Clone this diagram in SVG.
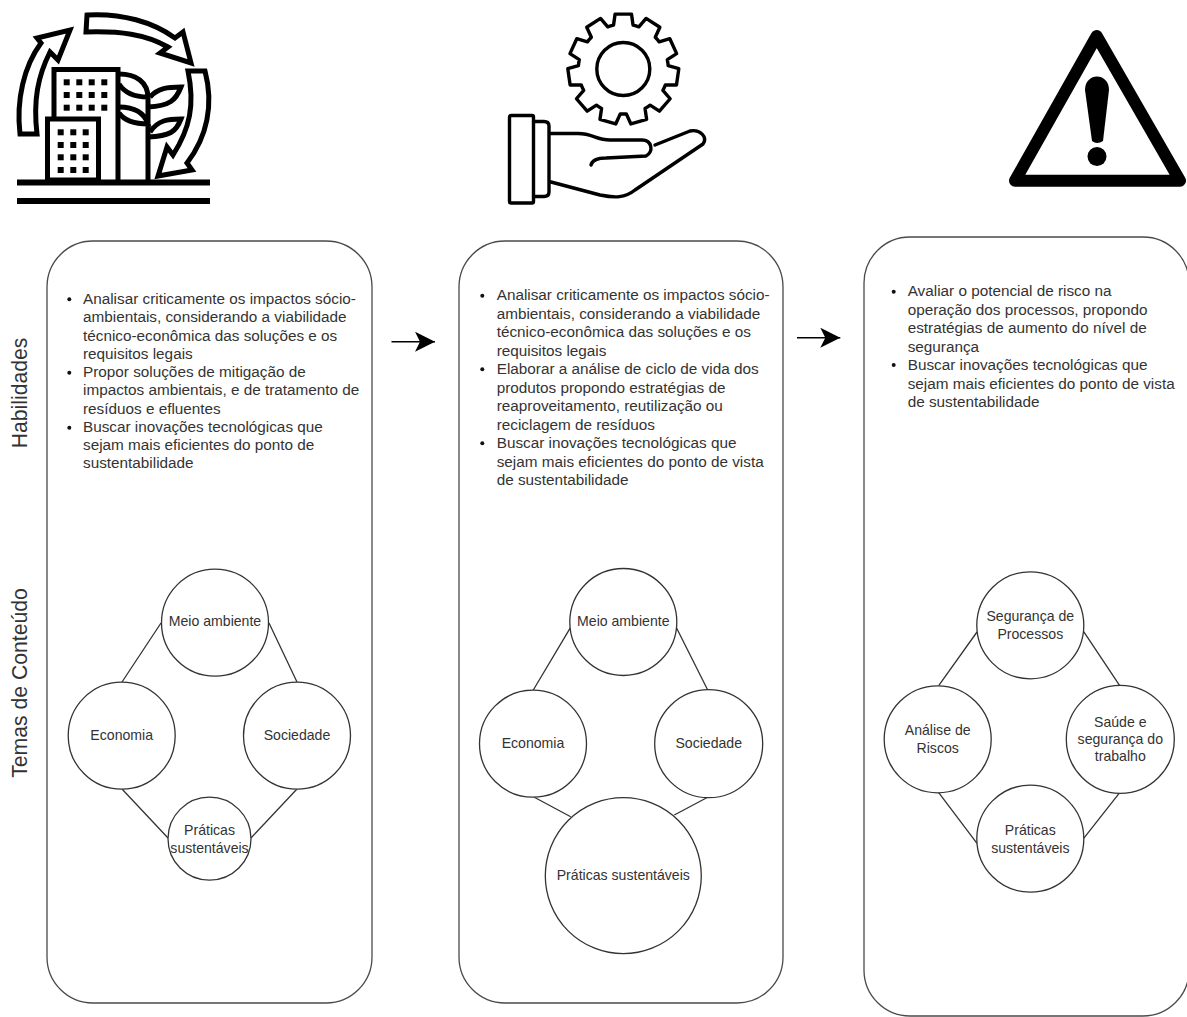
<svg xmlns="http://www.w3.org/2000/svg" width="1187" height="1017" viewBox="0 0 1187 1017">
<style>
text{font-family:"Liberation Sans",Arial,sans-serif;fill:#333}
.body{font-size:15.3px}
.lbl{font-size:14.1px;text-anchor:middle}
.side{font-size:21.2px;text-anchor:middle}
.panel{fill:#fff;stroke:#4a4a4a;stroke-width:1.3}
.node{fill:#fff;stroke:#333;stroke-width:1.3}
.conn{stroke:#333;stroke-width:1.3;fill:none}
.icon{fill:none;stroke:#000;stroke-width:5;stroke-linejoin:miter}
.thin{fill:none;stroke:#000;stroke-width:3.4;stroke-linejoin:round;stroke-linecap:round}
.bul{fill:#111}
</style>
<defs>
<rect id="w" x="-3" y="-3" width="6" height="6" fill="#000"/>
<marker id="arr" markerUnits="userSpaceOnUse" markerWidth="24" markerHeight="24" refX="20" refY="10" orient="auto"><path d="M0 0L20 10L0 20L5 10Z" fill="#000"/></marker>
</defs>
<rect width="1187" height="1017" fill="#fff"/>

<g id="icon-sustainability">
<path class="icon" d="M87 15C122 13 153 22 175 38L183 32L191 63L160 53L168 47C145 34 120 31 86 32Z"/>
<path class="icon" d="M20 134C16 100 24 66 41 43L37 38L70 30L58 60L50 52C38 76 33 100 37 134Z"/>
<path class="icon" d="M188 71H205C214 105 207 137 187 163L192 170L158 176L167 147L173 155C190 128 195 105 188 71Z"/>
<path class="icon" d="M54 118V69.500H118V180"/>
<rect class="icon" x="47.500" y="119" width="51" height="61" style="fill:#fff"/>
<path class="icon" d="M119 74C136 74 148 82 148 98V180M119 84C124 92 132 97 148 97M119 107C134 107 144 112 148 124C134 124 124 120 119 113"/>
<path class="icon" d="M150 97C158 88 168 87 181 87C176 100 170 106 148 107M150 132C158 120 168 119 181 119C176 132 170 136 148 137"/>
<g><use href="#w" x="66.700" y="82.300"/><use href="#w" x="79.300" y="82.300"/><use href="#w" x="91.700" y="82.300"/><use href="#w" x="104.300" y="82.300"/><use href="#w" x="66.700" y="95"/><use href="#w" x="79.300" y="95"/><use href="#w" x="91.700" y="95"/><use href="#w" x="104.300" y="95"/><use href="#w" x="66.700" y="107.700"/><use href="#w" x="79.300" y="107.700"/><use href="#w" x="91.700" y="107.700"/><use href="#w" x="104.300" y="107.700"/>
<use href="#w" x="60.700" y="132.300"/><use href="#w" x="73.300" y="132.300"/><use href="#w" x="85.700" y="132.300"/><use href="#w" x="60.700" y="145"/><use href="#w" x="73.300" y="145"/><use href="#w" x="85.700" y="145"/><use href="#w" x="60.700" y="157.300"/><use href="#w" x="73.300" y="157.300"/><use href="#w" x="85.700" y="157.300"/><use href="#w" x="60.700" y="170"/><use href="#w" x="73.300" y="170"/><use href="#w" x="85.700" y="170"/></g>
<rect x="17" y="179.500" width="193" height="6" fill="#000"/>
<rect x="17" y="198" width="193" height="6" fill="#000"/>
</g>

<g id="icon-gear-hand">
<g transform="translate(623.300 69)">
<path class="thin" d="M-9.740 -43.930L-8.200 -54.900L8.200 -54.900L9.740 -43.930A45 45 0 0 1 15.560 -42.220L22.780 -50.610L36.580 -41.740L31.950 -31.690A45 45 0 0 1 35.920 -27.110L46.520 -30.270L53.340 -15.350L44.010 -9.400A45 45 0 0 1 44.870 -3.390L55.500 -0.310L53.160 15.930L42.100 15.890A45 45 0 0 1 39.580 21.410L46.850 29.750L36.110 42.140L26.830 36.130A45 45 0 0 1 21.720 39.410L23.330 50.360L7.590 54.980L3.030 44.900A45 45 0 0 1 -3.030 44.900L-7.590 54.980L-23.330 50.360L-21.720 39.410A45 45 0 0 1 -26.830 36.130L-36.110 42.140L-46.850 29.750L-39.580 21.410A45 45 0 0 1 -42.100 15.890L-53.160 15.930L-55.500 -0.310L-44.870 -3.390A45 45 0 0 1 -44.010 -9.400L-53.340 -15.350L-46.520 -30.270L-35.920 -27.110A45 45 0 0 1 -31.950 -31.690L-36.580 -41.740L-22.780 -50.610L-15.560 -42.220A45 45 0 0 1 -9.740 -43.930Z"/>
<circle class="thin" cx="0" cy="0" r="26.500"/>
</g>
<rect class="thin" x="509.500" y="115.500" width="24" height="87.500" rx="1.500"/>
<path class="thin" d="M533.500 121.500H544Q549 121.500 549 126V192Q549 196.500 544 196.500H533.500"/>
<path class="thin" d="M550 133.500H578C593 133.500 596 140 610 140H642C652 140 654 152 646 156L606 158C597 158 592 161 591 165"/>
<path class="thin" d="M655 145L690 131C700 129 708 137 703 144L635 190C625 198 615 198 600 195L551 182"/>
</g>

<g id="icon-warning">
<path d="M1096.700 36L1180 180.700H1015Z" fill="none" stroke="#000" stroke-width="12" stroke-linejoin="round"/>
<path d="M1085 90C1085 72 1109 72 1109 90L1103 141Q1097 145 1092 141Z" fill="#000"/>
<circle cx="1097" cy="156.500" r="9.500" fill="#000"/>
</g>

<g id="side-labels">
<text class="side" transform="translate(27 393) rotate(-90)">Habilidades</text>
<text class="side" transform="translate(27 683) rotate(-90)">Temas de Conteúdo</text>
</g>

<g id="panel-1">
<rect class="panel" x="47" y="241" width="325" height="762" rx="46"/>
<g class="body">
<circle class="bul" cx="69.300" cy="299.300" r="2"/><circle class="bul" cx="69.300" cy="372.700" r="2"/><circle class="bul" cx="69.300" cy="427.700" r="2"/>
<text x="83" y="304">Analisar criticamente os impactos sócio-</text>
<text x="83" y="322.300">ambientais, considerando a viabilidade</text>
<text x="83" y="340.500">técnico-econômica das soluções e os</text>
<text x="83" y="358.800">requisitos legais</text>
<text x="83" y="377">Propor soluções de mitigação de</text>
<text x="83" y="395.300">impactos ambientais, e de tratamento de</text>
<text x="83" y="413.500">resíduos e efluentes</text>
<text x="83" y="431.800">Buscar inovações tecnológicas que</text>
<text x="83" y="450">sejam mais eficientes do ponto de</text>
<text x="83" y="468.300">sustentabilidade</text>
</g>
</g>

<g id="panel-2">
<rect class="panel" x="459" y="241" width="324" height="762" rx="46"/>
<g class="body">
<circle class="bul" cx="482.300" cy="295.700" r="2"/><circle class="bul" cx="482.300" cy="369.300" r="2"/><circle class="bul" cx="482.300" cy="443.300" r="2"/>
<text x="496.700" y="300">Analisar criticamente os impactos sócio-</text>
<text x="496.700" y="318.500">ambientais, considerando a viabilidade</text>
<text x="496.700" y="337">técnico-econômica das soluções e os</text>
<text x="496.700" y="355.500">requisitos legais</text>
<text x="496.700" y="374">Elaborar a análise de ciclo de vida dos</text>
<text x="496.700" y="392.500">produtos propondo estratégias de</text>
<text x="496.700" y="411">reaproveitamento, reutilização ou</text>
<text x="496.700" y="429.500">reciclagem de resíduos</text>
<text x="496.700" y="448">Buscar inovações tecnológicas que</text>
<text x="496.700" y="466.500">sejam mais eficientes do ponto de vista</text>
<text x="496.700" y="485">de sustentabilidade</text>
</g>
</g>

<g id="panel-3">
<rect class="panel" x="864" y="237" width="325" height="779" rx="46"/>
<g class="body">
<circle class="bul" cx="893.700" cy="291.700" r="2"/><circle class="bul" cx="893.700" cy="365" r="2"/>
<text x="907.700" y="296">Avaliar o potencial de risco na</text>
<text x="907.700" y="314.500">operação dos processos, propondo</text>
<text x="907.700" y="333">estratégias de aumento do nível de</text>
<text x="907.700" y="351.500">segurança</text>
<text x="907.700" y="370">Buscar inovações tecnológicas que</text>
<text x="907.700" y="388.500">sejam mais eficientes do ponto de vista</text>
<text x="907.700" y="407">de sustentabilidade</text>
</g>
</g>

<g id="connectors">
<path class="conn" d="M161 623L122 682M269 623L297 682M122 789L168 838M297 789L251 838"/>
<path class="conn" d="M570 628.300L533.300 690M676.700 628.300L707.700 690M534.300 797.300L570.700 816.700M707.700 797.300L674.300 815"/>
<path class="conn" d="M977 632L938.700 685.700M1083.700 631.700L1119.700 685.700M938.700 792.700L977 843.300M1119.700 792.700L1083.700 838.300"/>
<line x1="391.500" y1="341.700" x2="435" y2="341.700" stroke="#000" stroke-width="1.500" marker-end="url(#arr)"/>
<line x1="797" y1="337.700" x2="840.300" y2="337.700" stroke="#000" stroke-width="1.500" marker-end="url(#arr)"/>
</g>

<g id="n1-meio"><circle class="node" cx="215" cy="622.700" r="53.500"/><text class="lbl" x="215" y="626">Meio ambiente</text></g>
<g id="n1-economia"><circle class="node" cx="121.700" cy="735.700" r="53.500"/><text class="lbl" x="121.700" y="740">Economia</text></g>
<g id="n1-sociedade"><circle class="node" cx="297" cy="735.700" r="53.500"/><text class="lbl" x="297" y="740">Sociedade</text></g>
<g id="n1-praticas"><circle class="node" cx="209.500" cy="838.700" r="41.500"/><text class="lbl" x="209.500" y="835">Práticas</text><text class="lbl" x="209.500" y="853">sustentáveis</text></g>

<g id="n2-meio"><circle class="node" cx="623.300" cy="622" r="53.500"/><text class="lbl" x="623.300" y="626">Meio ambiente</text></g>
<g id="n2-economia"><circle class="node" cx="533" cy="743.700" r="53.500"/><text class="lbl" x="533" y="748">Economia</text></g>
<g id="n2-sociedade"><circle class="node" cx="708.700" cy="743.700" r="54"/><text class="lbl" x="708.700" y="748">Sociedade</text></g>
<g id="n2-praticas"><circle class="node" cx="623.300" cy="875.700" r="78"/><text class="lbl" x="623.300" y="880">Práticas sustentáveis</text></g>

<g id="n3-seguranca"><circle class="node" cx="1030.300" cy="625.300" r="53.500"/><text class="lbl" x="1030.300" y="621">Segurança de</text><text class="lbl" x="1030.300" y="639">Processos</text></g>
<g id="n3-analise"><circle class="node" cx="937.700" cy="739.300" r="53.500"/><text class="lbl" x="937.700" y="735">Análise de</text><text class="lbl" x="937.700" y="753">Riscos</text></g>
<g id="n3-saude"><circle class="node" cx="1120.300" cy="739.300" r="54"/><text class="lbl" x="1120.300" y="727">Saúde e</text><text class="lbl" x="1120.300" y="744">segurança do</text><text class="lbl" x="1120.300" y="761">trabalho</text></g>
<g id="n3-praticas"><circle class="node" cx="1030.300" cy="838.700" r="53.500"/><text class="lbl" x="1030.300" y="835">Práticas</text><text class="lbl" x="1030.300" y="853">sustentáveis</text></g>
</svg>
